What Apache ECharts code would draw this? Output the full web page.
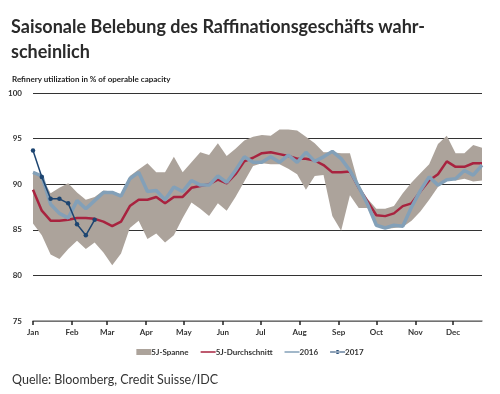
<!DOCTYPE html>
<html>
<head>
<meta charset="utf-8">
<script src="https://cdn.jsdelivr.net/npm/echarts@6/dist/echarts.min.js"></script>
<style>
html,body{margin:0;padding:0;background:#fff;}
#c{width:500px;height:394px;}
</style>
</head>
<body>
<div id="c"></div>
<script>
// Weekly data, week 1..52 (x position = day of year of week start)
const bandLower = [85.7,84.4,82.3,81.8,82.9,83.8,82.9,83.6,82.5,81.1,82.4,85.2,86.0,84.0,84.6,83.6,84.4,86.3,88.0,87.3,86.5,87.9,87.1,88.6,90.3,92.0,92.3,92.2,92.2,91.7,91.1,89.4,90.9,91.0,86.5,84.9,88.8,87.4,87.4,85.5,85.1,85.2,85.3,86.0,87.0,88.3,89.7,90.6,90.4,90.6,90.3,90.4];
const bandUpper = [91.4,90.8,89.0,89.6,90.1,89.1,88.3,88.6,89.3,89.2,88.9,90.9,91.6,92.3,91.3,91.3,93.0,91.3,92.4,93.5,93.2,94.5,93.1,93.9,94.8,95.2,95.4,95.3,96.0,96.0,95.9,95.2,94.5,93.5,93.5,93.4,93.4,89.9,88.4,87.3,87.3,87.6,89.0,90.2,91.2,92.2,94.4,95.3,93.4,93.4,94.3,94.0];
const avg5y = [89.4,87.1,86.0,86.0,86.1,86.3,86.3,86.2,85.9,85.4,85.9,87.6,88.3,88.3,88.6,87.9,88.6,88.6,89.6,89.8,90.0,90.5,90.1,91.1,92.5,92.9,93.4,93.5,93.3,93.1,92.8,92.8,92.6,92.1,91.3,91.3,91.4,89.6,88.1,86.6,86.5,86.8,87.6,87.9,89.2,90.4,91.1,92.5,91.9,91.9,92.3,92.3];
const y2016 = [91.3,90.9,87.8,86.8,86.3,88.2,87.3,88.2,89.1,89.1,88.7,90.6,91.3,89.2,89.3,88.3,89.7,89.2,90.4,89.9,89.9,90.9,90.2,91.5,93.0,92.4,92.4,93.0,92.4,93.2,92.4,93.5,92.5,93.0,93.6,92.8,91.5,89.7,87.8,85.5,85.2,85.5,85.4,87.5,89.3,90.8,89.9,90.5,90.6,91.5,91.0,92.1];
const y2017 = [93.7,90.8,88.4,88.4,87.9,85.6,84.4,86.1];
const monthDays = [0,31,59,90,120,151,181,212,243,273,304,334];
const monthNames = ['Jan','Feb','Mar','Apr','May','Jun','Jul','Aug','Sep','Oct','Nov','Dec'];

const toXY = arr => arr.map((v, i) => [i * 7, v]);
const bandData = bandLower.map((lo, i) => [i * 7, lo, bandUpper[i]]);

const BAND = '#aca39b';
const LINE_ICON = 'path://M0,0 M0,4.5 L30,4.5 L30,7.5 L0,7.5 Z M0,12';
const DOT_ICON = 'path://M0,0 M0,5 L30,5 L30,7 L0,7 Z M11,6 A4,4 0 1,0 19,6 A4,4 0 1,0 11,6 Z M0,12';
const chart = echarts.init(document.getElementById('c'), null, {renderer: 'canvas'});
const axisFont = {fontFamily: 'Lato', fontSize: 8, fontWeight: 'bold', color: '#333'};
chart.setOption({
  animation: false,
  backgroundColor: '#fff',
  title: [{
    text: 'Saisonale Belebung des Raffinationsgeschäfts wahr-\nscheinlich',
    left: 6, top: 10,
    textStyle: {fontFamily: 'Lato', fontSize: 18, fontWeight: 'bold', color: '#2a2a2a', lineHeight: 25}
  }, {
    text: 'Refinery utilization in % of operable capacity',
    left: 7, top: 70,
    textStyle: {fontFamily: 'Lato', fontSize: 8, fontWeight: 'bold', color: '#222'}
  }, {
    text: 'Quelle: Bloomberg, Credit Suisse/IDC',
    left: 7, top: 368,
    textStyle: {fontFamily: 'Lato', fontSize: 12.5, fontWeight: 'normal', color: '#333'}
  }],
  grid: {left: 33, right: 18, top: 93, bottom: 73},
  legend: {
    bottom: 33, left: 'center',
    itemWidth: 15, itemHeight: 6, itemGap: 12,
    textStyle: {fontFamily: 'Lato', fontSize: 8, fontWeight: 'bold', color: '#333', padding: [0,0,0,-5]},
    data: [
      {name: '5J-Spanne', icon: 'rect', itemStyle: {color: BAND}},
      {name: '5J-Durchschnitt', icon: LINE_ICON},
      {name: '2016', icon: LINE_ICON},
      {name: '2017', icon: DOT_ICON}
    ]
  },
  xAxis: {
    type: 'value', min: 0, max: 357,
    axisLine: {show: true, lineStyle: {color: '#888', width: 1.5}},
    axisTick: {show: true, customValues: monthDays, length: 4, lineStyle: {color: '#222', width: 1.5}},
    axisLabel: {show: true, customValues: monthDays, margin: 7, ...axisFont,
      formatter: v => monthNames[monthDays.indexOf(v)] || ''},
    splitLine: {show: false}
  },
  yAxis: {
    type: 'value', min: 75, max: 100, interval: 5,
    axisLine: {show: false}, axisTick: {show: false},
    axisLabel: {margin: 11, ...axisFont},
    splitLine: {lineStyle: {color: '#333', width: 1}}
  },
  series: [
    {name: '5J-Spanne', type: 'custom', data: bandData, z: 1,
      itemStyle: {color: BAND},
      encode: {x: 0, y: [1, 2]},
      renderItem: function (params, api) {
        if (params.dataIndex !== 0) return null;
        const upper = bandData.map(d => api.coord([d[0], d[2]]));
        const lower = bandData.map(d => api.coord([d[0], d[1]])).reverse();
        return {type: 'polygon', shape: {points: upper.concat(lower)},
          style: {fill: BAND, stroke: null}};
      }},
    {name: '5J-Durchschnitt', type: 'line', data: toXY(avg5y), symbol: 'none',
      itemStyle: {color: '#a8233f'}, lineStyle: {color: '#a8233f', width: 2.5}, z: 3},
    {name: '2016', type: 'line', data: toXY(y2016), symbol: 'none',
      itemStyle: {color: '#83a0b8'}, lineStyle: {color: '#83a0b8', width: 3.5}, z: 4},
    {name: '2017', type: 'line', data: toXY(y2017), symbol: 'circle', symbolSize: 4.5,
      itemStyle: {color: '#1d4571'}, lineStyle: {color: '#1d4571', width: 1.5}, z: 5}
  ]
});
</script>
</body>
</html>
